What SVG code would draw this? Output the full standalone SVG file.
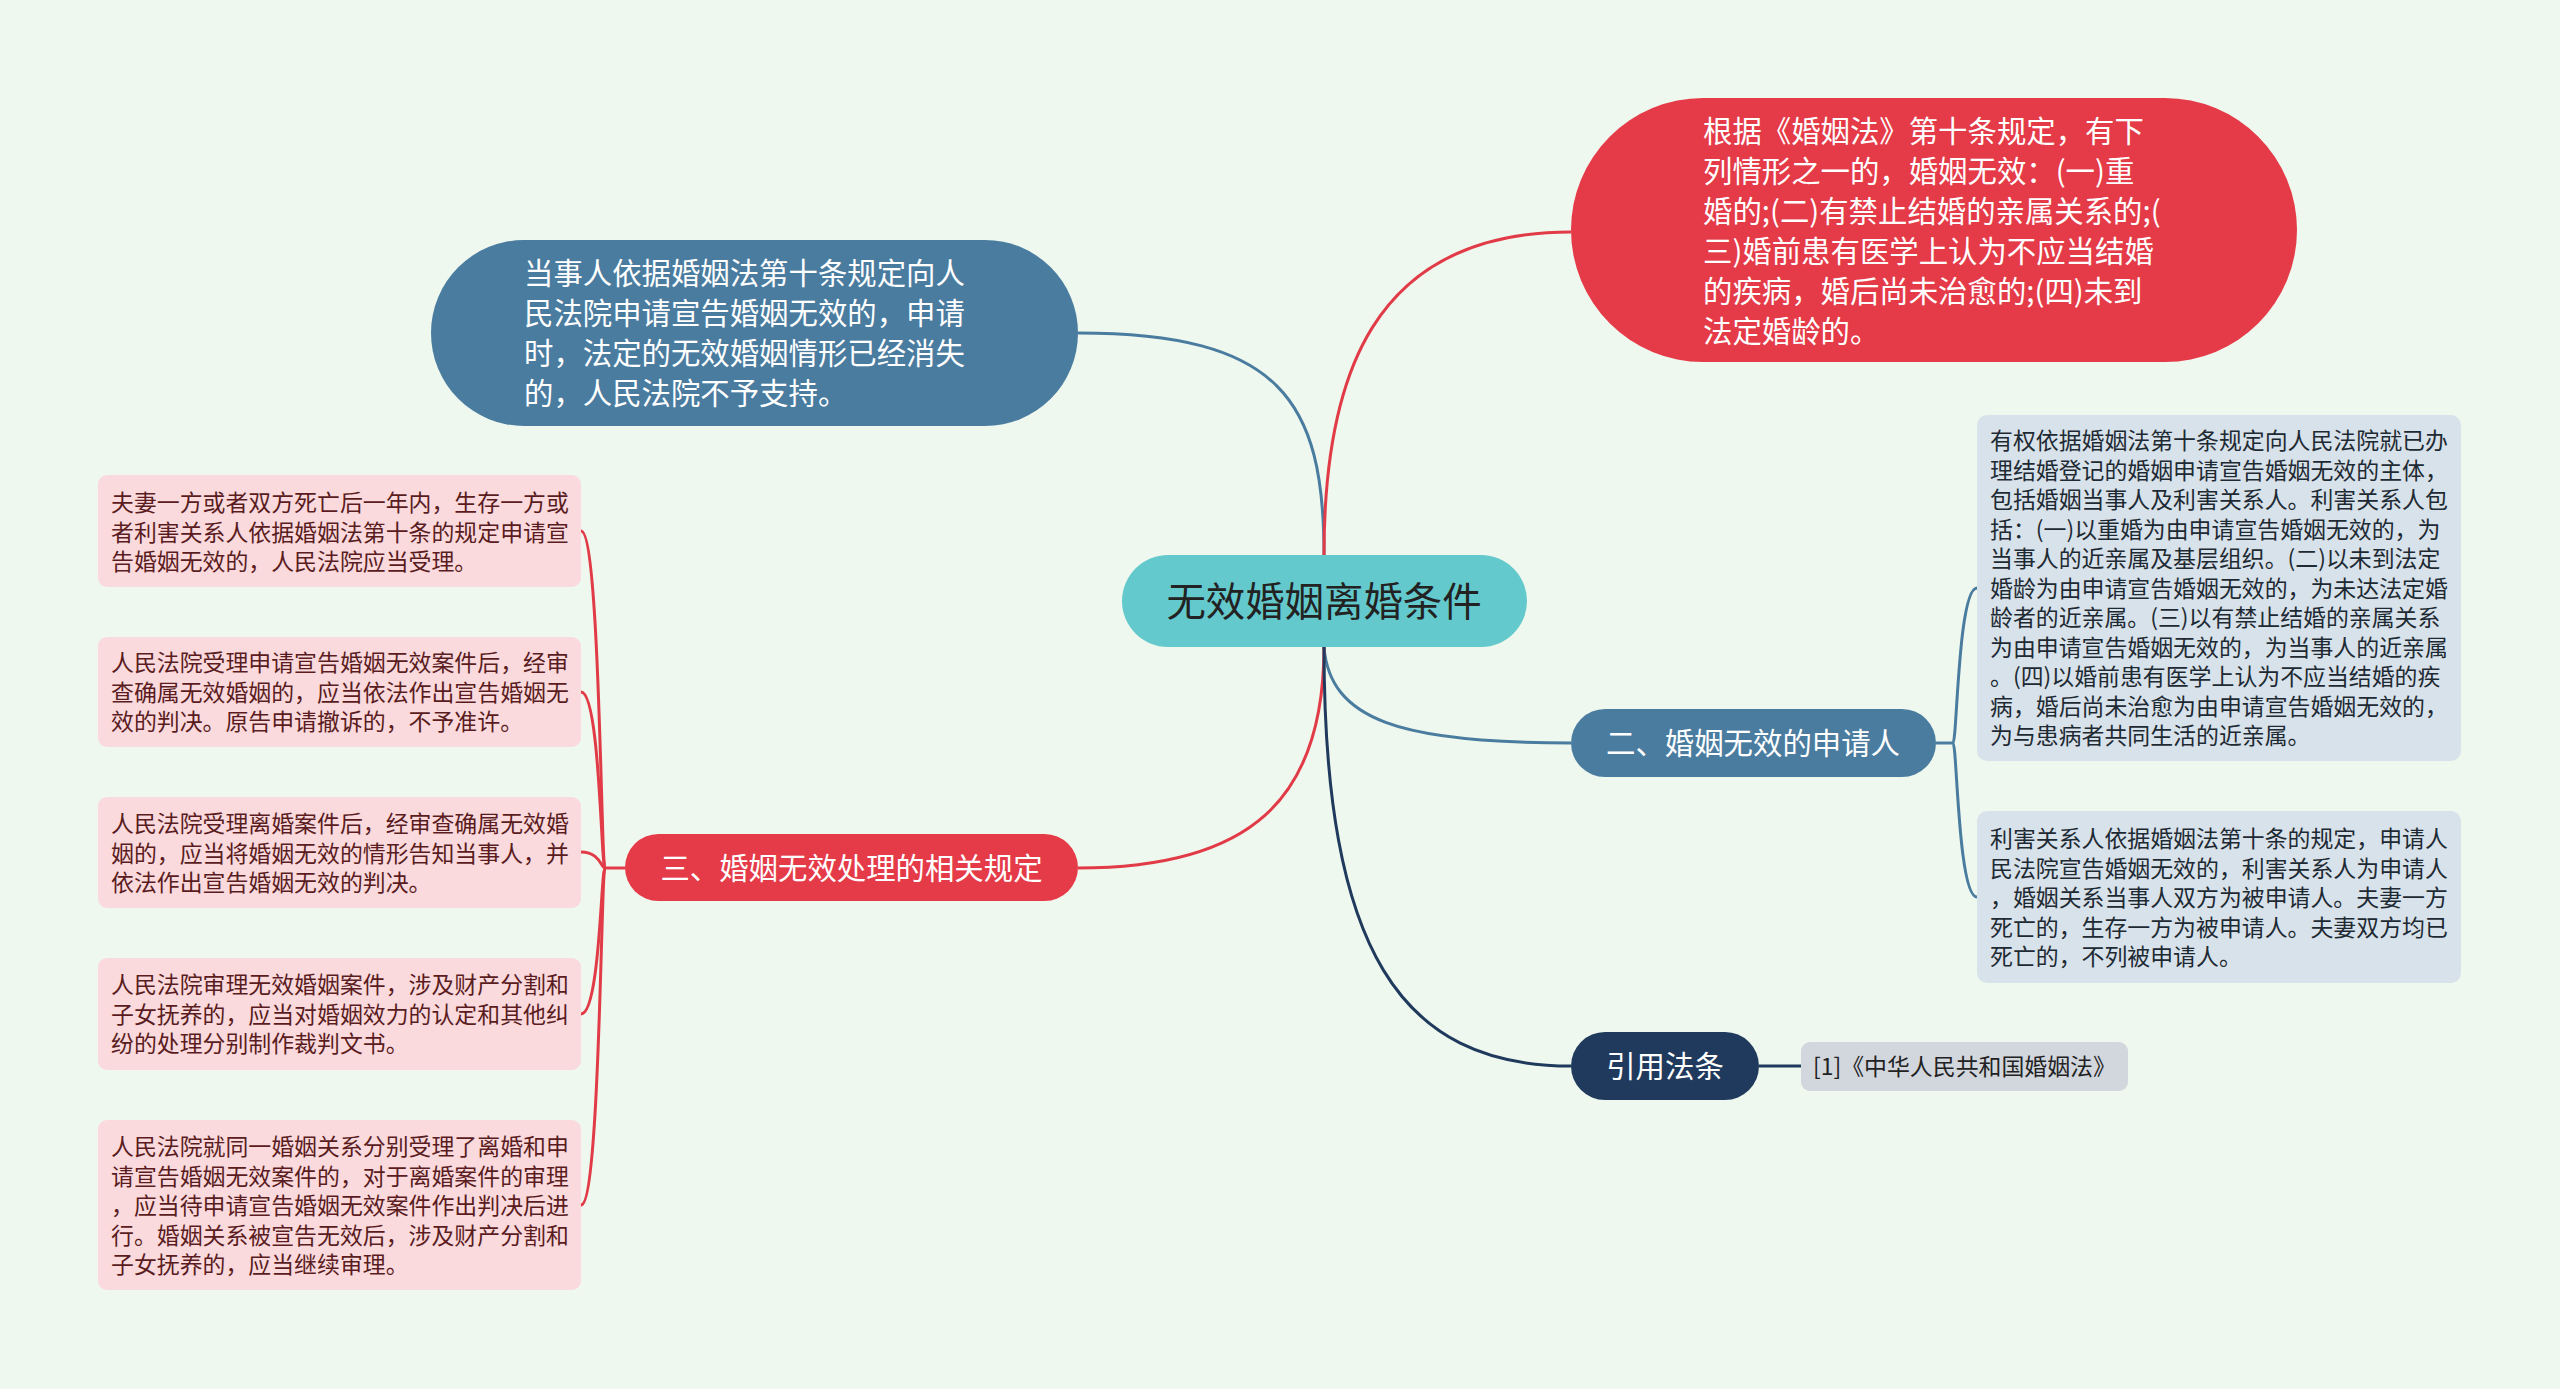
<svg xmlns="http://www.w3.org/2000/svg" width="2560" height="1389" viewBox="0 0 2560 1389">
<style>
text{font-family:"Noto Sans CJK SC","Noto Sans",sans-serif}
.c{fill:none;stroke-width:3}
.cb{stroke:#4a7ca0}.cr{stroke:#e23b48}.cn{stroke:#1f3a5c}
.big{font-size:29.4px;fill:#ffffff}
.sm{font-size:22.9px}
.pk{fill:#fadadd}.pkt{fill:#5a1c1e}
.gb{fill:#d8e2ea}.gbt{fill:#1e2a33}
</style>
<rect width="2560" height="1389" fill="#eff8ee"/>
<g id="connectors">
<path class="c cb" d="M1324,555 C1324,400 1280,333 1078,333"/>
<path class="c cr" d="M1324,555 C1324,380 1370,232 1571,232"/>
<path class="c cb" d="M1324,647 C1330,720 1400,743 1571,743"/>
<path class="c cr" d="M1324,647 C1324,800 1250,868 1078,868"/>
<path class="c cn" d="M1324,647 C1324,950 1400,1066 1571,1066"/>
<path class="c cn" d="M1759,1066 H1801"/>
<path class="c cb" d="M1936,743 H1953"/>
<path class="c cb" d="M1953,743 C1957,743 1958,588 1977,588"/>
<path class="c cb" d="M1953,743 C1957,743 1958,897 1977,897"/>
<path class="c cr" d="M625,868 H605"/>
<path class="c cr" d="M605,868 C601,868 600,531 581,531"/>
<path class="c cr" d="M605,868 C601,868 600,692 581,692"/>
<path class="c cr" d="M605,868 C601,868 600,852 581,852"/>
<path class="c cr" d="M605,868 C601,868 600,1014 581,1014"/>
<path class="c cr" d="M605,868 C601,868 600,1205 581,1205"/>
</g>
<g id="center">
<rect x="1122" y="555" width="405" height="92" rx="46" fill="#63c9cc"/>
<text x="1324" y="616" text-anchor="middle" font-size="39.4" fill="#222">无效婚姻离婚条件</text>
</g>
<g id="n-top-left">
<rect x="431" y="240" width="647" height="186" rx="93" fill="#4a7ca0"/>
<text class="big" x="524" y="284"><tspan x="524">当事人依据婚姻法第十条规定向人</tspan><tspan x="524" dy="40">民法院申请宣告婚姻无效的，申请</tspan><tspan x="524" dy="40">时，法定的无效婚姻情形已经消失</tspan><tspan x="524" dy="40">的，人民法院不予支持。</tspan></text>
</g>
<g id="n-top-right">
<rect x="1571" y="98" width="726" height="264" rx="132" fill="#e53a48"/>
<text class="big" x="1703" y="142"><tspan x="1703">根据《婚姻法》第十条规定，有下</tspan><tspan x="1703" dy="40">列情形之一的，婚姻无效：(一)重</tspan><tspan x="1703" dy="40">婚的;(二)有禁止结婚的亲属关系的;(</tspan><tspan x="1703" dy="40">三)婚前患有医学上认为不应当结婚</tspan><tspan x="1703" dy="40">的疾病，婚后尚未治愈的;(四)未到</tspan><tspan x="1703" dy="40">法定婚龄的。</tspan></text>
</g>
<g id="n-applicant">
<rect x="1571" y="709" width="365" height="68" rx="34" fill="#4a7ca0"/>
<text class="big" x="1753" y="754" text-anchor="middle">二、婚姻无效的申请人</text>
</g>
<g id="d-applicant-1">
<rect class="gb" x="1977" y="415" width="484" height="346" rx="10"/>
<text class="sm gbt" x="1990" y="449"><tspan x="1990">有权依据婚姻法第十条规定向人民法院就已办</tspan><tspan x="1990" dy="29.5">理结婚登记的婚姻申请宣告婚姻无效的主体，</tspan><tspan x="1990" dy="29.5">包括婚姻当事人及利害关系人。利害关系人包</tspan><tspan x="1990" dy="29.5">括：(一)以重婚为由申请宣告婚姻无效的，为</tspan><tspan x="1990" dy="29.5">当事人的近亲属及基层组织。(二)以未到法定</tspan><tspan x="1990" dy="29.5">婚龄为由申请宣告婚姻无效的，为未达法定婚</tspan><tspan x="1990" dy="29.5">龄者的近亲属。(三)以有禁止结婚的亲属关系</tspan><tspan x="1990" dy="29.5">为由申请宣告婚姻无效的，为当事人的近亲属</tspan><tspan x="1990" dy="29.5">。(四)以婚前患有医学上认为不应当结婚的疾</tspan><tspan x="1990" dy="29.5">病，婚后尚未治愈为由申请宣告婚姻无效的，</tspan><tspan x="1990" dy="29.5">为与患病者共同生活的近亲属。</tspan></text>
</g>
<g id="d-applicant-2">
<rect class="gb" x="1977" y="811" width="484" height="172" rx="10"/>
<text class="sm gbt" x="1990" y="847"><tspan x="1990">利害关系人依据婚姻法第十条的规定，申请人</tspan><tspan x="1990" dy="29.5">民法院宣告婚姻无效的，利害关系人为申请人</tspan><tspan x="1990" dy="29.5">，婚姻关系当事人双方为被申请人。夫妻一方</tspan><tspan x="1990" dy="29.5">死亡的，生存一方为被申请人。夫妻双方均已</tspan><tspan x="1990" dy="29.5">死亡的，不列被申请人。</tspan></text>
</g>
<g id="n-law">
<rect x="1571" y="1032" width="188" height="68" rx="34" fill="#1f3a5c"/>
<text class="big" x="1665" y="1077" text-anchor="middle">引用法条</text>
</g>
<g id="d-law">
<rect x="1801" y="1042" width="327" height="49" rx="9" fill="#d2d6dd"/>
<text class="sm" x="1813" y="1075" fill="#222">[1]《中华人民共和国婚姻法》</text>
</g>
<g id="n-rules">
<rect x="625" y="834" width="453" height="67" rx="33.5" fill="#e53a48"/>
<text class="big" x="851.5" y="879" text-anchor="middle">三、婚姻无效处理的相关规定</text>
</g>
<g id="d-rules-1">
<rect class="pk" x="98" y="475" width="483" height="112" rx="9"/>
<text class="sm pkt" x="111" y="511"><tspan x="111">夫妻一方或者双方死亡后一年内，生存一方或</tspan><tspan x="111" dy="29.5">者利害关系人依据婚姻法第十条的规定申请宣</tspan><tspan x="111" dy="29.5">告婚姻无效的，人民法院应当受理。</tspan></text>
</g>
<g id="d-rules-2">
<rect class="pk" x="98" y="637" width="483" height="110" rx="9"/>
<text class="sm pkt" x="111" y="671"><tspan x="111">人民法院受理申请宣告婚姻无效案件后，经审</tspan><tspan x="111" dy="29.5">查确属无效婚姻的，应当依法作出宣告婚姻无</tspan><tspan x="111" dy="29.5">效的判决。原告申请撤诉的，不予准许。</tspan></text>
</g>
<g id="d-rules-3">
<rect class="pk" x="98" y="797" width="483" height="111" rx="9"/>
<text class="sm pkt" x="111" y="832"><tspan x="111">人民法院受理离婚案件后，经审查确属无效婚</tspan><tspan x="111" dy="29.5">姻的，应当将婚姻无效的情形告知当事人，并</tspan><tspan x="111" dy="29.5">依法作出宣告婚姻无效的判决。</tspan></text>
</g>
<g id="d-rules-4">
<rect class="pk" x="98" y="958" width="483" height="112" rx="9"/>
<text class="sm pkt" x="111" y="993"><tspan x="111">人民法院审理无效婚姻案件，涉及财产分割和</tspan><tspan x="111" dy="29.5">子女抚养的，应当对婚姻效力的认定和其他纠</tspan><tspan x="111" dy="29.5">纷的处理分别制作裁判文书。</tspan></text>
</g>
<g id="d-rules-5">
<rect class="pk" x="98" y="1120" width="483" height="170" rx="9"/>
<text class="sm pkt" x="111" y="1155"><tspan x="111">人民法院就同一婚姻关系分别受理了离婚和申</tspan><tspan x="111" dy="29.5">请宣告婚姻无效案件的，对于离婚案件的审理</tspan><tspan x="111" dy="29.5">，应当待申请宣告婚姻无效案件作出判决后进</tspan><tspan x="111" dy="29.5">行。婚姻关系被宣告无效后，涉及财产分割和</tspan><tspan x="111" dy="29.5">子女抚养的，应当继续审理。</tspan></text>
</g>
</svg>
